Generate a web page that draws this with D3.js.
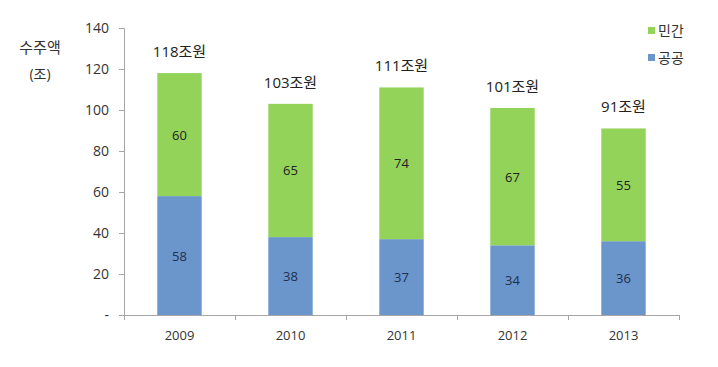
<!DOCTYPE html>
<html><head><meta charset="utf-8">
<script src="https://cdn.jsdelivr.net/npm/d3@7"></script>
<style>
body{margin:0;background:#fff;}
text{font-family:"Open Sans","Noto Sans CJK KR",sans-serif;}
</style></head>
<body><svg id="c" width="718" height="367"></svg>
<script>
const years = ["2009","2010","2011","2012","2013"];
const publicVals = [58, 38, 37, 34, 36];
const privateVals = [60, 65, 74, 67, 55];
const totalLabels = ["118조원","103조원","111조원","101조원","91조원"];
const yTicks = [0,20,40,60,80,100,120,140];
const seriesNames = ["민간","공공"];

const svg = d3.select("#c");
const x0 = 124, x1 = 679, yBottom = 315, yTop = 28;
const x = d3.scaleBand().domain(years).range([x0, x1]).paddingInner(0.6).paddingOuter(0.3);
const y = d3.scaleLinear().domain([0,140]).range([yBottom, yTop]);
const green = "#93d35a", blue = "#6b96cb";

// axes
const ya = svg.append("g").attr("transform",`translate(${x0},0)`)
  .call(d3.axisLeft(y).tickValues(yTicks).tickSize(5).tickFormat(d => d===0 ? "-" : d));
ya.select(".domain").attr("stroke","#a6a6a6");
ya.selectAll(".tick line").attr("stroke","#a6a6a6");
ya.selectAll(".tick text").attr("font-size",14).attr("fill","#333").attr("x",-15);

const xb = d3.scaleLinear().domain([0,5]).range([x0,x1]);
const xa = svg.append("g").attr("transform",`translate(0,${yBottom})`)
  .call(d3.axisBottom(xb).tickValues([0,1,2,3,4,5]).tickSize(5).tickFormat(""));
xa.select(".domain").attr("stroke","#a6a6a6");
xa.selectAll(".tick line").attr("stroke","#a6a6a6");
svg.append("g").selectAll("text").data(years).join("text")
  .attr("x", d => x(d)+x.bandwidth()/2).attr("y", 340)
  .attr("text-anchor","middle").attr("font-size",13).attr("fill","#333").text(d=>d);

// bars
const g = svg.append("g");
g.selectAll(".pub").data(years).join("rect")
  .attr("x", d=>x(d)).attr("width", x.bandwidth())
  .attr("y", (d,i)=>y(publicVals[i])).attr("height",(d,i)=>y(0)-y(publicVals[i]))
  .attr("fill", blue);
g.selectAll(".pri").data(years).join("rect")
  .attr("x", d=>x(d)).attr("width", x.bandwidth())
  .attr("y", (d,i)=>y(publicVals[i]+privateVals[i])).attr("height",(d,i)=>y(0)-y(privateVals[i]))
  .attr("fill", green);

// value labels
g.selectAll(".pl").data(years).join("text")
  .attr("x", d=>x(d)+x.bandwidth()/2).attr("y",(d,i)=>y(publicVals[i]/2)+5)
  .attr("text-anchor","middle").attr("font-size",13).attr("fill","#1f2f4f").text((d,i)=>publicVals[i]);
g.selectAll(".gl").data(years).join("text")
  .attr("x", d=>x(d)+x.bandwidth()/2).attr("y",(d,i)=>y(publicVals[i]+privateVals[i]/2)+5)
  .attr("text-anchor","middle").attr("font-size",13).attr("fill","#222").text((d,i)=>privateVals[i]);
g.selectAll(".tl").data(years).join("text")
  .attr("x", d=>x(d)+x.bandwidth()/2).attr("y",(d,i)=>y(publicVals[i]+privateVals[i])-16)
  .attr("text-anchor","middle").attr("font-size",15).attr("fill","#222").text((d,i)=>totalLabels[i]);

// y title
svg.append("text").attr("x",40).attr("y",53).attr("text-anchor","middle").attr("font-size",15).attr("fill","#333").text("수주액");
svg.append("text").attr("x",40).attr("y",79).attr("text-anchor","middle").attr("font-size",14).attr("fill","#333").text("(조)");

// legend
const lg = svg.append("g");
const lcol = [green, blue];
seriesNames.forEach((n,i)=>{
  lg.append("rect").attr("x",648).attr("y",27+i*27).attr("width",7).attr("height",7).attr("fill",lcol[i]);
  lg.append("text").attr("x",658).attr("y",36+i*27).attr("font-size",14).attr("fill","#333").text(n);
});
</script></body></html>
